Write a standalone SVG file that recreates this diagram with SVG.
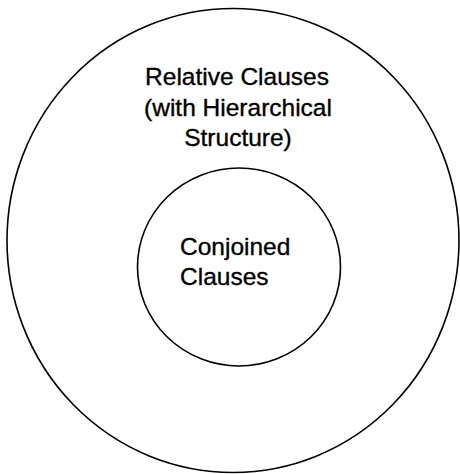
<svg xmlns="http://www.w3.org/2000/svg" width="460" height="474" viewBox="0 0 460 474">
  <style>
    .ring { fill: none; stroke: #000; stroke-width: 1.6; }
    .label { font-family: "Liberation Sans", Arial, sans-serif; font-size: 24.5px; fill: #000; stroke: #000; stroke-width: 0.35; }
  </style>
  <rect width="460" height="474" fill="#fff"/>
  <!-- outer set: relative clauses -->
  <g id="relative-clauses">
    <ellipse class="ring" cx="233" cy="240.5" rx="226" ry="232"/>
    <text class="label" text-anchor="middle" x="237" y="85">Relative Clauses</text>
    <text class="label" text-anchor="middle" x="238" y="116">(with Hierarchical</text>
    <text class="label" text-anchor="middle" x="238" y="146">Structure)</text>
  </g>
  <!-- inner set: conjoined clauses -->
  <g id="conjoined-clauses">
    <ellipse class="ring" cx="239" cy="267" rx="101.5" ry="99"/>
    <text class="label" x="180" y="254.5">Conjoined</text>
    <text class="label" x="180" y="284.5">Clauses</text>
  </g>
</svg>
